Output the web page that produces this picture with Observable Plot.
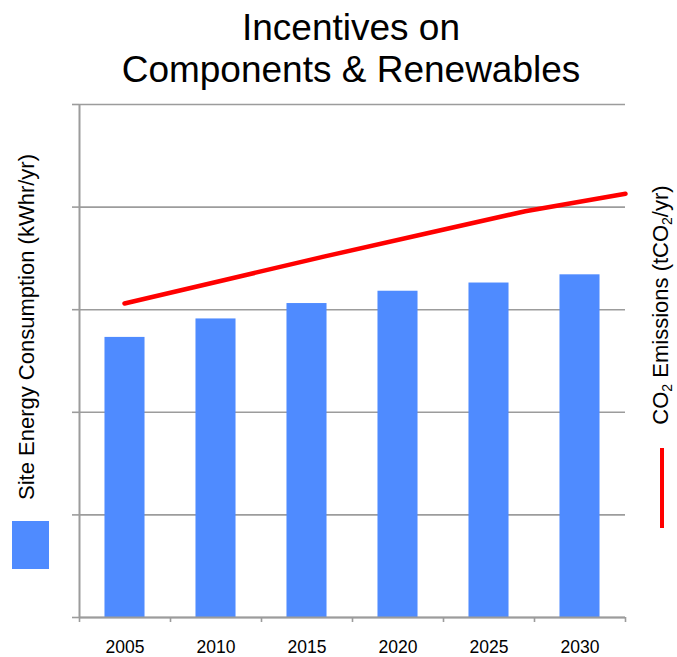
<!DOCTYPE html>
<html>
<head>
<meta charset="utf-8">
<script src="https://cdn.jsdelivr.net/npm/d3@7"></script>
<script src="https://cdn.jsdelivr.net/npm/@observablehq/plot@0.6"></script>
<style>
  html, body { margin: 0; padding: 0; background: #fff; }
  body { font-family: "Liberation Sans", Arial, sans-serif; color: #000; }
  #wrap { position: relative; width: 677px; height: 657px; overflow: hidden; background: #fff; }
  #wrap svg.layer { position: absolute; left: 0; top: 0; }
  .title { position: absolute; left: 77px; width: 548px; top: 7px; text-align: center;
           font-size: 37px; line-height: 42px; white-space: nowrap; }
  .ytitle { position: absolute; white-space: nowrap; font-size: 22px; line-height: 25px;
            transform: translate(-50%, -50%) rotate(-90deg); }
  .ytitle sub { font-size: 14px; line-height: 0; vertical-align: -4px; }
  .swatch { position: absolute; }
</style>
</head>
<body>
<div id="wrap">
  <div class="title">Incentives on<br>Components &amp; Renewables</div>
  <div class="ytitle" style="left:26px; top:327px;">Site Energy Consumption (kWhr/yr)</div>
  <div class="ytitle" style="left:660px; top:305px;">CO<sub>2</sub> Emissions (tCO<sub>2</sub>/yr)</div>
  <div class="swatch" style="left:12px; top:521px; width:37px; height:48px; background:#4F8BFF;"></div>
  <div class="swatch" style="left:660px; top:448px; width:4px; height:80px; background:#FF0000;"></div>
</div>
<script>
// ---- data ----
const years = [2005, 2010, 2015, 2020, 2025, 2030];
const energy = [2.73, 2.91, 3.06, 3.18, 3.26, 3.34];       // Site Energy Consumption (bars)
const emissions = [3.06, 3.29, 3.52, 3.74, 3.96, 4.13];    // CO2 Emissions (line)
const yTicks = [0, 1, 2, 3, 4, 5];

const bars = years.map((y, i) => ({year: y, value: energy[i]}));
const line = years.map((y, i) => ({year: y, value: emissions[i]}));

const step = years[1] - years[0];
const xDomain = [years[0] - step / 2, years[years.length - 1] + step / 2];
const boundaries = years.map(y => y - step / 2).concat([xDomain[1]]);
const halfBar = step * 0.22;

const W = 677, H = 657;
const gray = "#9c9c9c";

const main = Plot.plot({
  width: W, height: H,
  marginLeft: 79, marginRight: 52, marginTop: 104, marginBottom: 40,
  style: {background: "transparent", fontFamily: "Liberation Sans, Arial, sans-serif", color: "#000", overflow: "visible"},
  x: {type: "linear", domain: xDomain, axis: null},
  y: {domain: [0, 5], axis: null},
  marks: [
    Plot.gridY(yTicks, {stroke: gray, strokeOpacity: 1, strokeWidth: 1.6, dx: 0}),
    Plot.axisY(yTicks, {tickSize: 7, tickFormat: () => "", stroke: gray, strokeWidth: 1.6, label: null}),
    Plot.ruleX([xDomain[0]], {stroke: gray, strokeWidth: 2}),
    Plot.rectY(bars, {x1: d => d.year - halfBar, x2: d => d.year + halfBar, y1: 0, y2: "value", fill: "#4F8BFF"}),
    Plot.ruleY([0], {stroke: gray, strokeWidth: 2}),
    Plot.axisX(boundaries, {tickSize: 5, tickFormat: () => "", stroke: gray, strokeWidth: 1.6, label: null}),
    Plot.axisX(years, {tickSize: 0, tickPadding: 23.5, tickFormat: d => String(d), fontSize: 17.5, fill: "#000", label: null})
  ]
});
main.classList.add("layer");

const over = Plot.plot({
  width: W, height: H,
  marginLeft: 124, marginRight: 52, marginTop: 104, marginBottom: 40,
  style: {background: "transparent", overflow: "visible"},
  x: {type: "linear", domain: [years[0], years[years.length - 1]], axis: null},
  y: {domain: [0, 5], axis: null},
  marks: [
    Plot.line(line, {x: "year", y: "value", stroke: "#FF0000", strokeWidth: 4.5, strokeLinecap: "round"})
  ]
});
over.classList.add("layer");

const wrap = document.getElementById("wrap");
wrap.insertBefore(over, wrap.firstChild);
wrap.insertBefore(main, wrap.firstChild);
</script>
</body>
</html>
